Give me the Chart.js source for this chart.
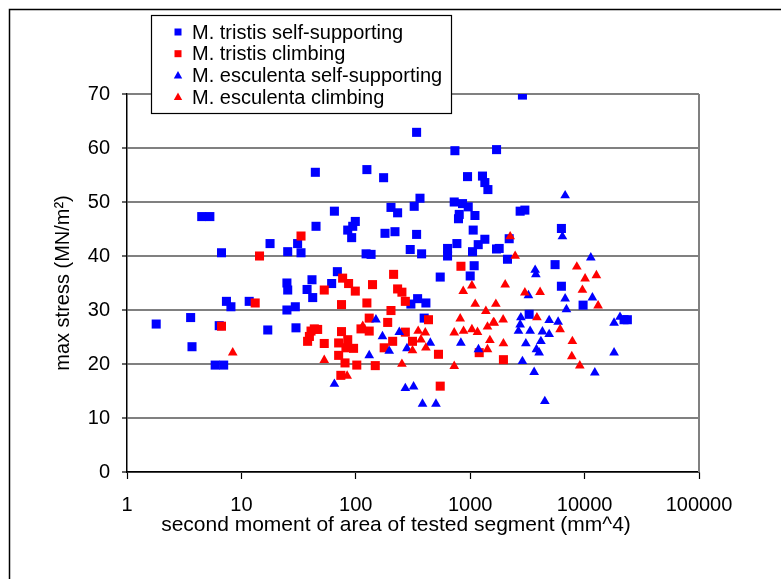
<!DOCTYPE html>
<html>
<head>
<meta charset="utf-8">
<script src="https://cdn.jsdelivr.net/npm/chart.js@4/dist/chart.umd.min.js"></script>
<style>
  html, body { margin: 0; padding: 0; background: #ffffff; }
  #wrap { width: 781px; height: 579px; }
</style>
</head>
<body>
<div id="wrap"><canvas id="chart" width="781" height="579"></canvas></div>
<script>
// Series names, in legend order
const seriesLabels = [
  'M. tristis self-supporting',
  'M. tristis climbing',
  'M. esculenta self-supporting',
  'M. esculenta climbing'
];

// Axis titles
const xAxisTitle = 'second moment of area of tested segment (mm^4)';
const yAxisTitle = 'max stress (MN/m²)';

// [second moment of area (mm^4), max stress (MN/m²)]
const tristisSelfSupporting = [
  [1.8, 27.4], [3.6, 28.6], [3.7, 23.2], [6.4, 27.1], [5.9, 19.8], [7.0, 19.8],
  [7.4, 31.6], [8.1, 30.6], [11.7, 31.6], [17.0, 26.3], [25.0, 35.0], [25.4, 33.7],
  [25.0, 30.0], [29.6, 30.6], [30.0, 26.7], [41.4, 35.6], [37.5, 33.8], [42, 32.3],
  [4.5, 47.3], [5.3, 47.3], [6.7, 40.6], [17.8, 42.3], [25.4, 40.8], [31, 42.3],
  [33.2, 40.6], [44.3, 55.5], [44.9, 45.5], [340, 62.9], [735, 59.5], [1700, 59.7],
  [125, 56.0], [175, 54.5], [948, 54.7], [1280, 54.8], [1343, 53.6], [1428, 52.3],
  [364, 50.7], [324, 49.2], [203, 49.0], [232, 48.0], [65, 48.3], [725, 50.0],
  [857, 49.7], [961, 49.1], [802, 47.7], [790, 46.9], [1100, 47.5], [99, 46.4],
  [94, 45.5], [85, 44.8], [92, 43.4], [180, 44.2], [220, 44.5], [340, 44.0],
  [1062, 44.8], [1343, 43.1], [1175, 42.1], [765, 42.3], [634, 41.4], [634, 40.0],
  [1048, 40.8], [1698, 41.3], [299, 41.2], [376, 40.4], [123, 40.4], [136, 40.3],
  [1083, 38.2], [547, 36.1], [1000, 36.3], [69, 37.1], [61.5, 34.9], [303, 31.1],
  [347, 32.1], [410, 31.3], [396, 28.5], [2862, 69.8], [2733, 48.3], [3005, 48.5],
  [6270, 45.1], [2192, 43.2], [1792, 41.4], [2118, 39.4], [5520, 38.4], [6270, 34.4],
  [9700, 30.9], [3276, 29.2], [22130, 28.2], [23650, 28.2]
];

const tristisClimbing = [
  [6.7, 27.0], [13.2, 31.3], [14.4, 40.0], [33.2, 43.7], [39.3, 25.1], [43.4, 26.5],
  [40.6, 26.1], [37.9, 24.2], [46.4, 26.4], [53, 23.8], [53, 33.7], [76.7, 35.9],
  [86.5, 34.9], [99, 33.5], [140, 34.7], [214, 36.6], [232, 33.9], [253, 33.3],
  [271, 31.6], [75, 31.0], [125, 31.3], [203, 29.9], [131, 28.5], [190, 27.7],
  [432, 28.2], [75, 26.0], [70.8, 23.9], [85, 24.5], [82, 23.0], [95.6, 22.9],
  [70.8, 21.6], [80.5, 20.2], [102, 19.8], [148, 19.7], [74, 17.9], [111, 26.5],
  [131, 26.1], [177, 23.0], [210, 24.2], [271, 25.9], [313, 24.2], [528, 21.8],
  [547, 15.9], [1199, 22.1], [830, 38.1], [1952, 20.8]
];

const esculentaSelfSupporting = [
  [150, 28.2], [171, 25.1], [240, 25.9], [196, 22.4], [131, 21.6], [280, 22.9],
  [448, 23.9], [65, 16.3], [271, 15.5], [320, 15.8], [383, 12.6], [502, 12.6],
  [829, 23.9], [1181, 22.7], [6760, 51.2], [6400, 43.6], [11330, 39.7], [3697, 37.4],
  [3750, 36.6], [3229, 32.7], [6760, 32.1], [11700, 32.3], [6940, 30.1], [2773, 28.6],
  [2733, 27.3], [2642, 26.1], [4900, 28.1], [5870, 27.8], [3342, 26.1], [4280, 26.0],
  [4900, 25.5], [4150, 24.2], [3065, 23.8], [3795, 22.7], [4005, 22.1], [2862, 20.5],
  [3622, 18.5], [4490, 13.1], [18100, 27.6], [20400, 28.7], [18100, 22.1], [12280, 18.4]
];

const esculentaClimbing = [
  [8.4, 22.1], [53, 20.7], [115, 27.0], [351, 26.1], [405, 25.8], [371, 24.5],
  [410, 23.0], [313, 22.5], [253, 20.0], [725, 19.6], [869, 33.5], [1035, 34.5],
  [1106, 31.1], [1676, 31.1], [1371, 29.8], [818, 28.4], [725, 25.8], [875, 26.1],
  [1035, 26.4], [1158, 25.9], [1416, 26.9], [1596, 27.7], [1486, 24.4], [1416, 22.7],
  [2236, 43.6], [2472, 40.0], [8550, 38.0], [12680, 36.4], [10100, 35.8], [2022, 34.7],
  [3005, 33.2], [4083, 33.3], [9570, 33.7], [13120, 30.8], [3830, 28.6], [1941, 28.2],
  [1622, 27.6], [1952, 23.8], [6110, 26.4], [7820, 24.2], [7730, 21.4], [9080, 19.7],
  [84, 17.8]
];

// Axis ticks
const xTickValues = [1, 10, 100, 1000, 10000, 100000];
const yTickValues = [0, 10, 20, 30, 40, 50, 60, 70];

const FONT = "'Liberation Sans', Arial, sans-serif";
const BLUE = '#0000ff';
const RED = '#ff0000';

const toPoints = arr => arr.map(([x, y]) => ({ x, y }));

const seriesStyles = [
  { data: tristisSelfSupporting, color: BLUE, style: 'rect', radius: 6.4, order: 4 },
  { data: tristisClimbing, color: RED, style: 'rect', radius: 6.4, order: 3 },
  { data: esculentaSelfSupporting, color: BLUE, style: 'triangle', radius: 5.6, order: 2 },
  { data: esculentaClimbing, color: RED, style: 'triangle', radius: 5.6, order: 1 }
];

const datasets = seriesStyles.map((s, i) => ({
  label: seriesLabels[i],
  data: toPoints(s.data),
  pointStyle: s.style,
  pointRadius: s.radius,
  pointHoverRadius: s.radius,
  backgroundColor: s.color,
  borderColor: s.color,
  borderWidth: 0,
  showLine: false,
  order: s.order
}));

// White page, outer frame, plot border, x-axis title and the boxed legend
const framePlugin = {
  id: 'frame',
  beforeDraw(chart) {
    const ctx = chart.ctx;
    ctx.save();
    ctx.fillStyle = '#ffffff';
    ctx.fillRect(0, 0, chart.width, chart.height);
    ctx.strokeStyle = '#000000';
    ctx.lineWidth = 1.5;
    ctx.strokeRect(9.5, 9.5, 800, 600);
    ctx.restore();
  },
  beforeDatasetsDraw(chart) {
    const { ctx, chartArea: a } = chart;
    ctx.save();
    ctx.strokeStyle = '#808080';
    ctx.lineWidth = 2;
    ctx.beginPath();
    ctx.moveTo(a.right, a.top);
    ctx.lineTo(a.right, a.bottom);
    ctx.stroke();
    ctx.restore();
  },
  afterDraw(chart) {
    const ctx = chart.ctx;
    ctx.save();

    // x-axis title, sitting a little left of the plot centre
    ctx.fillStyle = '#000000';
    ctx.font = '21px ' + FONT;
    ctx.textAlign = 'center';
    ctx.textBaseline = 'middle';
    ctx.fillText(xAxisTitle, 396, 525);

    // legend box
    const box = { x: 151.5, y: 15.5, w: 300, h: 98 };
    ctx.fillStyle = '#ffffff';
    ctx.fillRect(box.x, box.y, box.w, box.h);
    ctx.strokeStyle = '#000000';
    ctx.lineWidth = 1.2;
    ctx.strokeRect(box.x, box.y, box.w, box.h);
    ctx.font = '20px ' + FONT;
    ctx.textBaseline = 'middle';
    ctx.textAlign = 'left';
    chart.data.datasets.forEach((ds, i) => {
      const cy = 32 + i * 21.7;
      const cx = 178;
      ctx.fillStyle = ds.backgroundColor;
      if (ds.pointStyle === 'rect') {
        ctx.fillRect(cx - 3.5, cy - 3.5, 7, 7);
      } else {
        ctx.beginPath();
        ctx.moveTo(cx, cy - 4.5);
        ctx.lineTo(cx + 4.2, cy + 3);
        ctx.lineTo(cx - 4.2, cy + 3);
        ctx.closePath();
        ctx.fill();
      }
      ctx.fillStyle = '#000000';
      ctx.fillText(ds.label, 192, cy + 1);
    });
    ctx.restore();
  }
};

new Chart(document.getElementById('chart'), {
  type: 'scatter',
  data: { datasets },
  options: {
    responsive: false,
    animation: false,
    devicePixelRatio: 1,
    layout: { padding: { left: 0, top: 94, right: 82, bottom: 27 } },
    plugins: {
      legend: { display: false },
      tooltip: { enabled: false },
      title: { display: false }
    },
    scales: {
      x: {
        type: 'logarithmic',
        min: 1,
        max: 100000,
        afterBuildTicks: scale => { scale.ticks = xTickValues.map(v => ({ value: v })); },
        afterFit: scale => { scale.height = 80; },
        ticks: {
          color: '#000000',
          font: { family: FONT, size: 20 },
          padding: 14,
          maxRotation: 0,
          autoSkip: false,
          callback: v => String(v)
        },
        grid: {
          drawOnChartArea: false,
          drawTicks: true,
          tickLength: 7,
          tickColor: '#000000',
          tickWidth: 1.2
        },
        border: { color: '#000000', width: 1.5 },
        title: { display: false }
      },
      y: {
        min: 0,
        max: 70,
        afterBuildTicks: scale => { scale.ticks = yTickValues.map(v => ({ value: v })); },
        afterFit: scale => { scale.width = 127; },
        ticks: {
          color: '#000000',
          font: { family: FONT, size: 20 },
          padding: 12,
          callback: v => String(v)
        },
        grid: {
          color: '#808080',
          lineWidth: 2,
          drawTicks: true,
          tickLength: 5,
          tickColor: '#000000',
          tickWidth: 1.2
        },
        border: { color: '#000000', width: 1.5 },
        title: {
          display: true,
          text: yAxisTitle,
          color: '#000000',
          font: { family: FONT, size: 20 },
          padding: { top: 51, bottom: 0 }
        }
      }
    }
  },
  plugins: [framePlugin]
});
</script>
</body>
</html>
